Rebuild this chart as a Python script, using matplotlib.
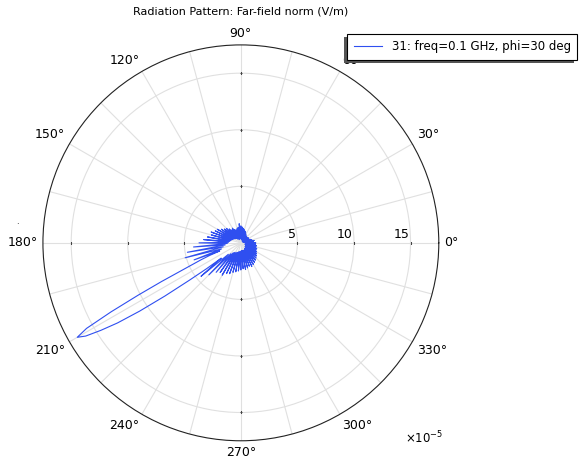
import numpy as np
import matplotlib.pyplot as plt
from matplotlib.patches import Rectangle
from matplotlib.transforms import offset_copy

# far-field norm, units of 1e-5 V/m
theta_deg = [0, 2.5, 5, 7.5, 10, 12.5, 15, 17.5, 20, 22.5, 25, 27.5, 30, 32.5, 35, 37.5,
             40, 42.5, 45, 47.5, 50, 52.5, 55, 57.5, 60, 62.5, 65, 67.5, 70, 72.5, 75, 77.5,
             80, 82.5, 85, 87.5, 90, 92.5, 95, 97.5, 100, 102.5, 105, 107.5, 110, 112.5,
             115, 117.5, 120, 122.5, 125, 127.5, 130, 132.5, 135, 137.5, 140, 142.5, 145,
             147.5, 150, 152.5, 155, 157.5, 160, 162.5, 165, 167.5, 170, 172.5, 175, 177.5,
             180, 182.5, 185, 187.5, 190, 192.5, 195, 197.5, 200, 201, 202, 203, 204, 205,
             206, 207, 208, 209, 210, 211, 212, 213, 214, 215, 216, 217, 218, 219, 220,
             222.5, 225, 227.5, 230, 232.5, 235, 237.5, 240, 242.5, 245, 247.5, 250, 252.5,
             255, 257.5, 260, 262.5, 265, 267.5, 270, 272.5, 275, 277.5, 280, 282.5, 285,
             287.5, 290, 292.5, 295, 297.5, 300, 302.5, 305, 307.5, 310, 312.5, 315, 317.5,
             320, 322.5, 325, 327.5, 330, 332.5, 335, 337.5, 340, 342.5, 345, 347.5, 350,
             352.5, 355, 357.5, 360]
norm_e = [1.3, 0.4, 1.1, 0.3, 1.2, 0.3, 1.0, 0.2, 0.9, 0.3, 0.8, 0.2, 0.7, 0.2, 0.8, 0.3,
          0.6, 0.2, 0.7, 0.2, 0.8, 0.3, 0.7, 0.2, 0.9, 0.3, 1.0, 0.3, 1.1, 0.4, 1.2, 0.3,
          1.3, 0.4, 1.4, 0.4, 1.5, 0.5, 1.7, 0.4, 1.4, 0.4, 1.3, 0.3, 1.2, 0.4,
          1.3, 0.4, 1.5, 0.5, 1.4, 0.4, 1.6, 0.5, 1.8, 0.6, 1.9, 0.6, 2.1,
          0.7, 2.4, 0.7, 2.5, 0.8, 2.8, 0.9, 2.7, 0.9, 3.0, 1.0, 3.3, 1.1,
          3.7, 1.2, 4.2, 1.4, 4.8, 1.6, 5.1, 1.8, 4.4, 2.0, 3.0, 3.8, 4.6, 5.8,
          7.8, 10.2, 13.0, 15.6, 16.7, 16.0, 14.6, 13.0, 10.8, 8.2, 5.6, 3.8, 2.2, 3.2, 4.6,
          1.5, 4.0, 1.3, 3.4, 1.1, 3.2, 1.0, 3.3, 1.0, 3.0, 0.9, 2.9, 0.9,
          2.7, 0.8, 2.6, 0.8, 2.5, 0.8, 2.4, 0.7, 2.3, 0.7, 2.4, 0.7, 2.3,
          0.7, 2.2, 0.7, 2.3, 0.7, 2.2, 0.6, 2.1, 0.6, 2.0, 0.6, 1.9, 0.5,
          1.8, 0.5, 1.7, 0.5, 1.6, 0.5, 1.5, 0.4, 1.5, 0.4, 1.4, 0.4, 1.4,
          0.4, 1.3, 0.4, 1.3]

r_ticks = [5, 10, 15]
r_max = 17.5
angle_labels = list(range(0, 360, 30))
legend_label = '31: freq=0.1 GHz, phi=30 deg'

fig = plt.figure(figsize=(5.79, 4.63), dpi=100)
ax = fig.add_axes([0.0725, 0.048, 0.687, 0.855], projection='polar')

ax.plot(np.deg2rad(theta_deg), norm_e, color='#2f4ff0', lw=0.8, label=legend_label)

ax.set_ylim(0, r_max)
ax.set_yticks(r_ticks)
ax.set_yticklabels([])
ax.set_xticks(np.deg2rad(np.arange(0, 360, 15)))
ax.set_xticklabels([])
ax.grid(color='#e0e0e0', lw=0.8)
ax.spines['polar'].set_linewidth(0.8)
ax.spines['polar'].set_color('#222222')

# angle labels anchored just outside the rim, aligned away from the centre
r_lab = r_max * 204 / 199
for a in angle_labels:
    c, s = np.cos(np.deg2rad(a)), np.sin(np.deg2rad(a))
    ha = 'left' if c > 0.01 else ('right' if c < -0.01 else 'center')
    va = 'bottom' if s > 0.01 else ('top' if s < -0.01 else 'center')
    ax.text(np.deg2rad(a), r_lab, f'{a}°', ha=ha, va=va, fontsize=9, clip_on=False)

# radial labels just inside each circle, above the 0° line
tr = offset_copy(ax.transData, fig=fig, x=-1, y=1, units='points')
for r in r_ticks:
    ax.text(0, r, str(r), transform=tr, ha='right', va='bottom', fontsize=9)
# small tick marks on the axis lines
for a in [0, 90, 180, 270]:
    m = '|' if a in (0, 180) else '_'
    ax.plot(np.deg2rad([a] * len(r_ticks)), r_ticks, ls='none', marker=m,
            ms=2, mew=0.8, color='#444444')

fig.text(241 / 579, 1 - 12 / 463, 'Radiation Pattern: Far-field norm (V/m)',
         ha='center', va='center', fontsize=8)
fig.text(0.70, 1 - 438 / 463, r'$\times10^{-5}$', ha='left', va='center', fontsize=8.5)
fig.text(0.03, 1 - 222 / 463, '.', fontsize=6, ha='center', va='center')

leg = fig.legend(loc='upper right', bbox_to_anchor=(0.997, 0.9266), fontsize=8.5,
                 frameon=True, fancybox=False, edgecolor='black', framealpha=1,
                 borderaxespad=0, handlelength=2.4, borderpad=0.55)
leg.get_frame().set_linewidth(0.8)
leg.set_zorder(10)

# drop shadow down-left of the legend box
fig.canvas.draw()
bb = leg.get_window_extent().transformed(fig.transFigure.inverted())
dx, dy = 3 / 579, 3 / 463
fig.patches.append(Rectangle((bb.x0 - dx, bb.y0 - dy), bb.width, bb.height,
                             transform=fig.transFigure, facecolor='#555555',
                             edgecolor='none', zorder=9))

fig.savefig('out.png', dpi=100)
